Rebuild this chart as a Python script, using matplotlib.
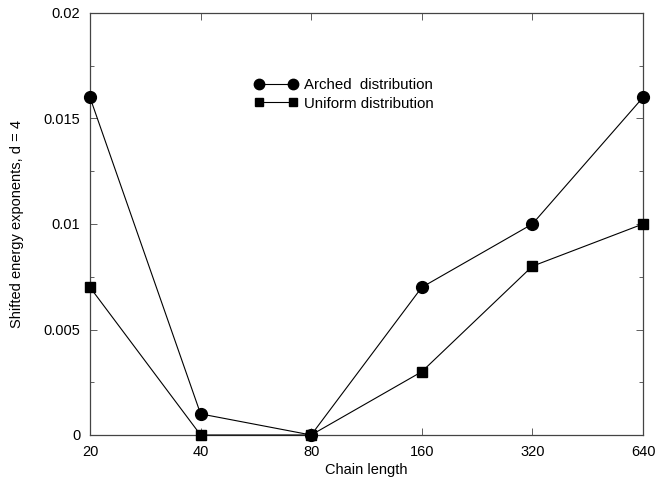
"""Shifted energy exponents vs chain length (d = 4)."""

import matplotlib

matplotlib.use("Agg")
import matplotlib.pyplot as plt
from matplotlib.ticker import MultipleLocator

plt.rcParams["font.family"] = ["Liberation Sans", "DejaVu Sans"]

# Donnees
chain_length = [20, 40, 80, 160, 320, 640]
arched = [0.016, 0.001, 0.0, 0.007, 0.010, 0.016]
uniform = [0.007, 0.0, 0.0, 0.003, 0.008, 0.010]
x_labels = ["20", "40", "80", "160", "320", "640"]
y_ticks = [0, 0.005, 0.01, 0.015, 0.02]
y_labels = ["0", "0.005", "0.01", "0.015", "0.02"]

fig = plt.figure(figsize=(6.65, 4.78), dpi=100)
ax = fig.add_axes([90 / 665, 1 - 435 / 478, 553 / 665, 422 / 478])

ax.plot(chain_length, arched, color="black", lw=0.8, marker="o", ms=8.5,
        label="Arched  distribution", clip_on=False, zorder=3)
ax.plot(chain_length, uniform, color="black", lw=0.8, marker="s", ms=7,
        label="Uniform distribution", clip_on=False, zorder=3)

ax.set_xscale("log", base=2)
ax.set_xlim(20, 640)
ax.set_xticks(chain_length)
ax.set_xticklabels(x_labels)
ax.xaxis.set_minor_locator(plt.NullLocator())
ax.set_ylim(0, 0.02)
ax.set_yticks(y_ticks)
ax.set_yticklabels(y_labels)
ax.yaxis.set_minor_locator(MultipleLocator(0.0025))

ax.tick_params(which="both", direction="in", top=True, right=True,
               labelsize=10.5, width=0.6, color="#444444")
ax.tick_params(which="major", length=5, pad=7)
ax.tick_params(which="minor", length=3)
for s in ax.spines.values():
    s.set_linewidth(0.9)
    s.set_color("#444444")

ax.set_xlabel("Chain length", fontsize=10.5, labelpad=3)
ax.set_ylabel("Shifted energy exponents, d = 4", fontsize=10.5, labelpad=14)

ax.legend(loc="upper left", bbox_to_anchor=(0.286, 0.86), frameon=False,
          numpoints=2, handlelength=2.9, handletextpad=0.4, fontsize=10.8,
          labelspacing=0.3, borderaxespad=0, markerscale=0.88)

fig.savefig("out.png", dpi=100)
